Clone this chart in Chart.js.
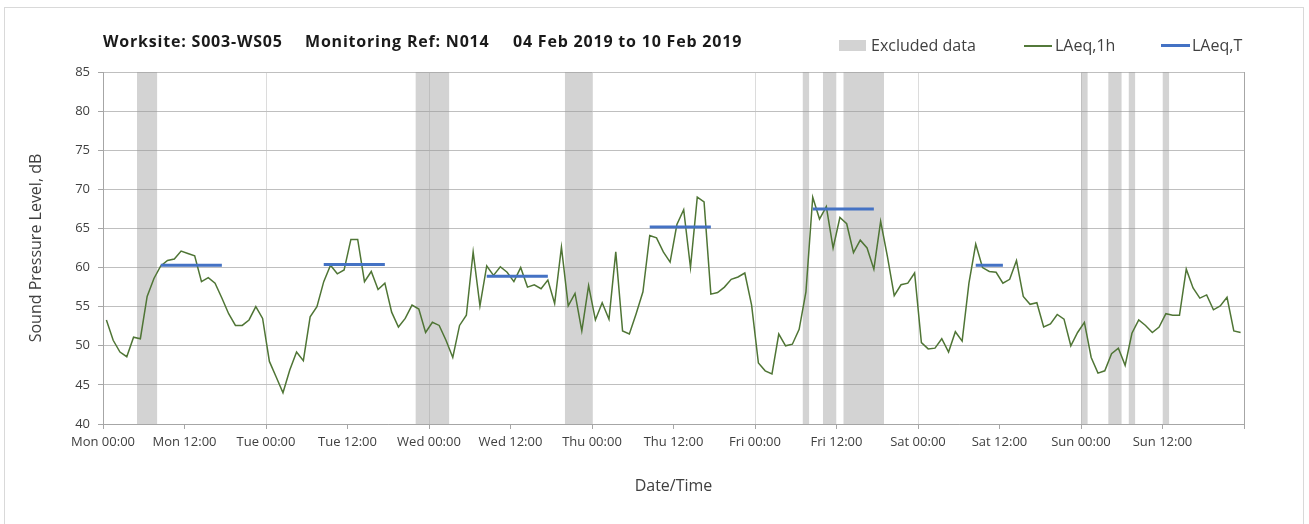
<!DOCTYPE html>
<html>
<head>
<meta charset="utf-8">
<script src="https://cdn.jsdelivr.net/npm/chart.js@4.4.1/dist/chart.umd.min.js"></script>
<style>
    html, body { margin: 0; padding: 0; background: #fff; overflow: hidden; }
    #wrap { position: relative; width: 1309px; height: 524px; }
    #frame { position: absolute; left: 4px; top: 7px; width: 1300px; height: 540px; border: 1px solid #d9d9d9; box-sizing: border-box; pointer-events: none; }
    canvas { position: absolute; left: 0; top: 0; }
    .title { position: absolute; top: 30px; font: bold 16px 'Open Sans', sans-serif; letter-spacing: 0.8px; color: #1a1a1a; white-space: nowrap; }
    .lg { position: absolute; top: 34px; font: 16px 'Open Sans', sans-serif; color: #404040; white-space: nowrap; }
    .sw { position: absolute; }
</style>
</head>
<body>
<div id="wrap">
    <canvas id="chart" width="1309" height="524"></canvas>
    <div id="frame"></div>
    <span class="title" style="left:103px">Worksite: S003-WS05</span>
    <span class="title" style="left:305px">Monitoring Ref: N014</span>
    <span class="title" style="left:513px">04 Feb 2019 to 10 Feb 2019</span>
    <div class="sw" style="left:839px;top:40px;width:27px;height:11px;background:#d3d3d3"></div>
    <span class="lg" style="left:871px">Excluded data</span>
    <div class="sw" style="left:1024px;top:45px;width:28px;height:1.5px;background:#53793a"></div>
    <span class="lg" style="left:1055px">LAeq,1h</span>
    <div class="sw" style="left:1161px;top:44px;width:29px;height:3px;background:#4472c4"></div>
    <span class="lg" style="left:1192px">LAeq,T</span>
</div>
<script>
// Day names for the x axis (hours from Mon 00:00)
const dayNames = ['Mon', 'Tue', 'Wed', 'Thu', 'Fri', 'Sat', 'Sun', 'Mon'];

// Hourly LAeq,1h values, Mon 00:00 .. Sun 23:00 (168 hours)
const laeq1h = [
    53.3, 50.7, 49.2, 48.6, 51.1, 50.9, 56.3, 58.6, 60.2, 60.9, 61.1, 62.1, 61.8, 61.5, 58.2, 58.7, 58.0, 56.1, 54.1, 52.6, 52.6, 53.3, 55.0, 53.5,
    48.0, 46.0, 44.0, 46.9, 49.2, 48.1, 53.7, 55.0, 58.2, 60.3, 59.2, 59.7, 63.6, 63.6, 58.2, 59.5, 57.2, 58.0, 54.3, 52.4, 53.5, 55.2, 54.7, 51.7,
    53.0, 52.6, 50.7, 48.5, 52.6, 53.9, 62.0, 55.1, 60.2, 59.0, 60.1, 59.4, 58.2, 60.0, 57.5, 57.8, 57.3, 58.4, 55.4, 62.6, 55.1, 56.7, 51.9, 57.7,
    53.3, 55.5, 53.4, 62.0, 51.9, 51.5, 54.1, 56.9, 64.1, 63.8, 62.0, 60.7, 65.5, 67.4, 60.0, 69.0, 68.4, 56.6, 56.8, 57.5, 58.5, 58.8, 59.3, 55.2,
    47.8, 46.8, 46.4, 51.5, 50.0, 50.2, 52.1, 56.9, 69.0, 66.2, 67.8, 62.5, 66.4, 65.6, 61.9, 63.5, 62.5, 59.8, 65.9, 61.4, 56.4, 57.8, 58.0, 59.3,
    50.4, 49.6, 49.7, 50.9, 49.2, 51.8, 50.6, 58.0, 63.0, 60.0, 59.5, 59.4, 58.0, 58.5, 60.9, 56.3, 55.3, 55.5, 52.4, 52.8, 54.0, 53.4, 50.0, 51.7,
    53.0, 48.5, 46.5, 46.8, 49.0, 49.7, 47.5, 51.6, 53.3, 52.6, 51.7, 52.4, 54.1, 53.9, 53.9, 59.8, 57.4, 56.1, 56.5, 54.6, 55.1, 56.2, 51.9, 51.7
];

// LAeq,T periods: first and last hour, level
const periodStart = [8, 32, 56, 80, 104, 128];
const periodEnd = [17, 41, 65, 89, 113, 132];
const periodLevel = [60.3, 60.4, 58.9, 65.2, 67.5, 60.3];

// Excluded data ranges (hours from Mon 00:00)
const excludedStart = [5, 46, 68, 103, 106, 109, 144, 148, 151, 156];
const excludedEnd = [8, 51, 72, 104, 108, 115, 145, 150, 152, 157];

const yMin = 40, yMax = 85;

const hourlyPoints = laeq1h.map((v, i) => ({ x: i + 0.5, y: v }));

const periodPoints = [];
periodStart.forEach((s, i) => {
    periodPoints.push({ x: s + 0.5, y: periodLevel[i] });
    periodPoints.push({ x: periodEnd[i] + 0.5, y: periodLevel[i] });
    periodPoints.push({ x: periodEnd[i] + 0.5, y: null });
});

const excludedPoints = [];
excludedStart.forEach((s, i) => {
    excludedPoints.push({ x: s, y: yMax });
    excludedPoints.push({ x: excludedEnd[i], y: yMax });
    excludedPoints.push({ x: excludedEnd[i], y: null });
});

const font = { family: "'Open Sans', sans-serif", size: 13 };
const titleFont = { family: "'Open Sans', sans-serif", size: 16 };

new Chart(document.getElementById('chart'), {
    type: 'line',
    data: {
        datasets: [
            {
                label: 'Excluded data',
                data: excludedPoints,
                borderWidth: 0,
                pointRadius: 0,
                fill: 'start',
                backgroundColor: 'rgba(150,150,150,0.42)',
                spanGaps: false,
                order: 3
            },
            {
                label: 'LAeq,1h',
                data: hourlyPoints,
                borderColor: '#4f7535',
                borderWidth: 1.5,
                pointRadius: 0,
                tension: 0,
                fill: false,
                order: 2
            },
            {
                label: 'LAeq,T',
                data: periodPoints,
                borderColor: '#4472c4',
                borderWidth: 3,
                pointRadius: 0,
                fill: false,
                spanGaps: false,
                order: 1
            }
        ]
    },
    options: {
        responsive: false,
        animation: false,
        devicePixelRatio: 1,
        layout: { padding: { top: 72, right: 65, bottom: 0, left: 0 } },
        plugins: { legend: { display: false }, tooltip: { enabled: false } },
        scales: {
            x: {
                type: 'linear',
                min: 0,
                max: 168,
                afterFit: s => { s.height = 100; },
                ticks: {
                    stepSize: 12,
                    autoSkip: false,
                    maxRotation: 0,
                    padding: 5,
                    color: '#404040',
                    font: font,
                    callback: v => v >= 168 ? '' : dayNames[Math.floor(v / 24)] + ' ' + String(v % 24).padStart(2, '0') + ':00'
                },
                grid: {
                    color: c => c.tick.value === 168 ? '#a6a6a6' : (c.tick.value % 24 === 0 ? '#dcdcdc' : 'rgba(0,0,0,0)'),
                    tickColor: '#a6a6a6',
                    tickLength: 5
                },
                border: { color: '#a6a6a6' },
                title: {
                    display: true,
                    text: 'Date/Time',
                    color: '#404040',
                    font: titleFont,
                    padding: { bottom: 28 }
                }
            },
            y: {
                min: yMin,
                max: yMax,
                afterFit: s => { s.width = 103; },
                ticks: { stepSize: 5, padding: 8, color: '#404040', font: font },
                grid: { color: '#bfbfbf', tickColor: '#a6a6a6', tickLength: 5 },
                border: { color: '#a6a6a6' },
                title: {
                    display: true,
                    text: 'Sound Pressure Level, dB',
                    color: '#404040',
                    font: titleFont,
                    padding: { top: 27 }
                }
            }
        }
    }
});
</script>
</body>
</html>
